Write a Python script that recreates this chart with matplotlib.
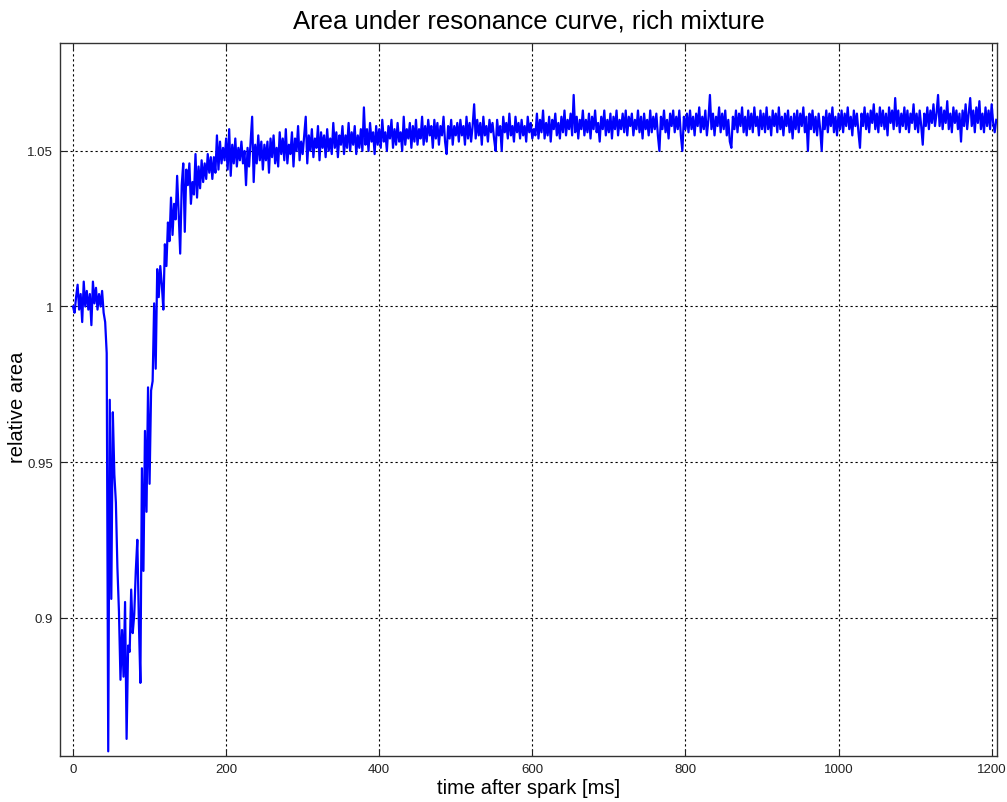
import numpy as np
import matplotlib
matplotlib.use("Agg")
import matplotlib.pyplot as plt

# ---------------- data (relative area, sampled every 2 ms) ----------------
SAMPLE_MS = 2

baseline = [1.000, 0.998, 1.003, 1.007, 0.999, 1.004, 0.995, 1.008, 1.000, 1.005,
            0.999, 1.004, 0.994, 1.008, 1.001, 1.006, 0.999, 1.004, 1.000, 1.005,
            0.998, 0.995]

dip = [0.985, 0.857, 0.970, 0.906, 0.966, 0.946, 0.937, 0.916, 0.902, 0.880,
       0.896, 0.881, 0.905, 0.861, 0.891, 0.889, 0.909, 0.895, 0.901, 0.915,
       0.925, 0.899, 0.879, 0.948, 0.915, 0.960, 0.934, 0.974, 0.943, 0.973,
       0.976]

recovery = [1.001, 0.980, 1.012, 1.003, 1.013, 1.007, 0.999, 1.020, 1.013, 1.027,
            1.021, 1.035, 1.023, 1.033, 1.028, 1.042, 1.030, 1.017, 1.039, 1.046,
            1.024, 1.044, 1.039, 1.046, 1.033, 1.040, 1.036, 1.049, 1.035, 1.045,
            1.038, 1.047, 1.040, 1.046, 1.041, 1.049, 1.043, 1.048, 1.041, 1.048,
            1.043, 1.055, 1.044, 1.053, 1.046, 1.051, 1.047, 1.054, 1.044, 1.057,
            1.042, 1.052, 1.046, 1.054, 1.045, 1.051, 1.047, 1.053, 1.046, 1.050,
            1.039, 1.051, 1.045, 1.053, 1.061, 1.040, 1.052, 1.046, 1.055, 1.047,
            1.053, 1.044, 1.052]

plateau_a = [1.047, 1.053, 1.043, 1.054, 1.048, 1.055, 1.046, 1.051, 1.045, 1.056,
             1.049, 1.054, 1.047, 1.057, 1.046, 1.052, 1.049, 1.056, 1.045, 1.054,
             1.050, 1.058, 1.047, 1.053, 1.049, 1.055, 1.061, 1.046, 1.055, 1.050,
             1.057, 1.048, 1.054, 1.051, 1.058, 1.047, 1.056, 1.051, 1.055, 1.048,
             1.057, 1.050, 1.054, 1.049, 1.059, 1.051, 1.056, 1.048, 1.055, 1.052,
             1.058, 1.049, 1.055, 1.051, 1.059, 1.050, 1.056, 1.052, 1.058, 1.049,
             1.055, 1.051, 1.057, 1.050, 1.064, 1.052, 1.057, 1.050, 1.059, 1.053,
             1.056, 1.049, 1.058, 1.052, 1.057, 1.051, 1.060, 1.053, 1.056, 1.050,
             1.058, 1.054, 1.060, 1.051, 1.057, 1.052, 1.059, 1.053, 1.056, 1.050,
             1.061, 1.052, 1.057, 1.054, 1.059, 1.051, 1.058, 1.053, 1.060, 1.052,
             1.057, 1.054, 1.061, 1.052, 1.058, 1.053, 1.060, 1.055, 1.058, 1.051,
             1.060, 1.054, 1.059, 1.052, 1.058, 1.055, 1.061, 1.053, 1.049, 1.058,
             1.054, 1.060, 1.052, 1.058, 1.055]

plateau_b = [1.059, 1.053, 1.060, 1.055, 1.058, 1.052, 1.061, 1.054, 1.059, 1.053,
             1.058, 1.065, 1.054, 1.060, 1.055, 1.059, 1.052, 1.061, 1.055, 1.058,
             1.053, 1.060, 1.056, 1.059, 1.054, 1.050, 1.060, 1.055, 1.058, 1.050,
             1.061, 1.056, 1.059, 1.054, 1.062, 1.055, 1.058, 1.053, 1.061, 1.056,
             1.059, 1.054, 1.060, 1.055, 1.058, 1.053, 1.061, 1.056, 1.059, 1.054,
             1.057, 1.055, 1.062, 1.054, 1.060, 1.056, 1.063, 1.054, 1.059, 1.055,
             1.061, 1.053, 1.060, 1.057, 1.062, 1.055, 1.059, 1.054, 1.061, 1.056,
             1.063, 1.055, 1.060, 1.057, 1.062, 1.055, 1.068, 1.056, 1.061, 1.054,
             1.060, 1.057, 1.063, 1.055, 1.060, 1.056, 1.062, 1.054, 1.061, 1.057,
             1.063, 1.056, 1.059, 1.053, 1.061, 1.057, 1.063, 1.055, 1.060, 1.056,
             1.062, 1.054, 1.061, 1.057, 1.063, 1.055, 1.060, 1.057, 1.062, 1.056,
             1.063, 1.055, 1.061, 1.058, 1.062, 1.055, 1.060, 1.057, 1.063, 1.056,
             1.061, 1.054, 1.062, 1.057, 1.060, 1.055, 1.063, 1.056, 1.061, 1.057,
             1.062, 1.055, 1.050, 1.061, 1.057, 1.063, 1.056, 1.060, 1.054, 1.062,
             1.058, 1.063, 1.056, 1.061, 1.057, 1.063, 1.055, 1.050, 1.061, 1.057]

plateau_c = [1.062, 1.056, 1.063, 1.057, 1.061, 1.055, 1.062, 1.058, 1.064, 1.056,
             1.061, 1.057, 1.063, 1.055, 1.060, 1.068, 1.057, 1.062, 1.055, 1.061,
             1.058, 1.064, 1.056, 1.062, 1.057, 1.063, 1.055, 1.060, 1.053, 1.051,
             1.061, 1.057, 1.063, 1.056, 1.062, 1.058, 1.064, 1.056, 1.061, 1.055,
             1.063, 1.057, 1.062, 1.056, 1.064, 1.058, 1.061, 1.055, 1.063, 1.057,
             1.062, 1.056, 1.064, 1.057, 1.061, 1.055, 1.063, 1.058, 1.062, 1.056,
             1.064, 1.057, 1.061, 1.055, 1.062, 1.058, 1.063, 1.056, 1.061, 1.054,
             1.062, 1.057, 1.063, 1.056, 1.062, 1.058, 1.064, 1.056, 1.061, 1.050,
             1.062, 1.057, 1.063, 1.056, 1.061, 1.055, 1.062, 1.057, 1.050, 1.061,
             1.057, 1.063, 1.056, 1.062, 1.058, 1.064, 1.056, 1.061, 1.055, 1.062]

plateau_d = [1.057, 1.063, 1.056, 1.062, 1.058, 1.064, 1.057, 1.061, 1.055, 1.063,
             1.058, 1.062, 1.056, 1.051, 1.062, 1.058, 1.064, 1.057, 1.062, 1.056,
             1.063, 1.059, 1.065, 1.057, 1.062, 1.056, 1.064, 1.058, 1.063, 1.057,
             1.062, 1.055, 1.064, 1.059, 1.063, 1.057, 1.067, 1.058, 1.063, 1.056,
             1.062, 1.058, 1.064, 1.057, 1.063, 1.056, 1.062, 1.059, 1.065, 1.057,
             1.062, 1.056, 1.063, 1.058, 1.052, 1.062, 1.058, 1.064, 1.057, 1.063,
             1.059, 1.065, 1.058, 1.062, 1.068, 1.058, 1.064, 1.057, 1.063, 1.059,
             1.066, 1.057, 1.062, 1.056, 1.064, 1.059, 1.063, 1.057, 1.062, 1.053,
             1.063, 1.058, 1.065, 1.057, 1.062, 1.067, 1.058, 1.063, 1.056, 1.064,
             1.059, 1.066, 1.057, 1.062, 1.056, 1.064, 1.058, 1.063, 1.057, 1.065,
             1.059, 1.056, 1.060]

x_ticks = [0, 200, 400, 600, 800, 1000, 1200]
x_tick_labels = ["0", "200", "400", "600", "800", "1000", "1200"]
y_ticks = [0.9, 0.95, 1.0, 1.05]
y_tick_labels = ["0.9", "0.95", "1", "1.05"]

title = "Area under resonance curve, rich mixture"
x_label = "time after spark [ms]"
y_label = "relative area"

# ---------------- assemble ----------------
area = np.concatenate([baseline, dip, recovery, plateau_a, plateau_b, plateau_c, plateau_d])
time_ms = np.arange(len(area)) * SAMPLE_MS

plt.rcParams["font.family"] = ["Liberation Sans", "DejaVu Sans"]

W, H = 1007, 803
fig = plt.figure(figsize=(W / 100, H / 100), dpi=100)
fig.patch.set_facecolor("white")
left, right, top, bottom = 60, 997, 44, 757
ax = fig.add_axes([left / W, 1 - bottom / H, (right - left) / W, (bottom - top) / H])

ax.plot(time_ms, area, color="#0000ff", linewidth=1.6, zorder=3)

ax.set_xlim(-17, 1207)
ax.set_ylim(0.8555, 1.0847)
ax.set_xticks(x_ticks)
ax.set_xticklabels(x_tick_labels)
ax.set_yticks(y_ticks)
ax.set_yticklabels(y_tick_labels)

ax.grid(True, color="black", linestyle=(0, (2, 2.5)), linewidth=0.8, zorder=1)
ax.tick_params(direction="in", top=True, right=True, length=5, width=0.8,
               labelsize=9.5, colors="#222222", pad=5)
for sp in ax.spines.values():
    sp.set_color("#333333")
    sp.set_linewidth(1.0)

fig.text((left + right) / 2 / W, 1 - 22 / H, title, ha="center", va="center", fontsize=18.5)
ax.set_xlabel(x_label, fontsize=14.5)
ax.xaxis.set_label_coords(0.5, (bottom - 789) / (bottom - top))
ax.xaxis.label.set_verticalalignment("center")
ax.set_ylabel(y_label, fontsize=14.5)
ax.yaxis.set_label_coords((18 - left) / (right - left), 0.49)
ax.yaxis.label.set_verticalalignment("center")

fig.savefig("out.png", dpi=100, facecolor="white")
